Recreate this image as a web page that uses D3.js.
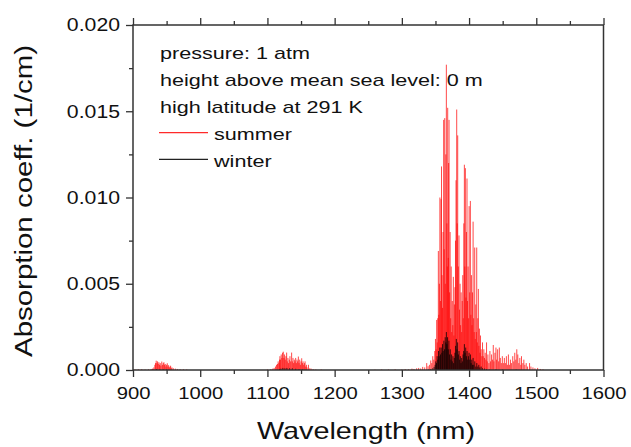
<!DOCTYPE html>
<html>
<head>
<meta charset="utf-8">
<script src="https://cdn.jsdelivr.net/npm/d3@7"></script>
<style>
  body { margin: 0; background: #fff; }
  text { font-family: "Liberation Sans", Arial, sans-serif; fill: #111; }
</style>
</head>
<body>
<svg id="chart" width="631" height="447"></svg>
<script>
//Axis tick values
var xTicks      = [900, 1000, 1100, 1200, 1300, 1400, 1500, 1600];
var xMinorTicks = [950, 1050, 1150, 1250, 1350, 1450, 1550];
var yTicks      = [0, 0.005, 0.010, 0.015, 0.020];
var yMinorTicks = [0.0025, 0.0075, 0.0125, 0.0175];

var infoLines = ["pressure: 1 atm", "height above mean sea level: 0 m", "high latitude at 291 K"];
var seriesNames = ["summer", "winter"];

//Summer spectrum, [wavelength nm, absorption 1/cm]
var summerBand1 = [
  [903,0.00003],[908,0.00004],[913,0.00005],[918,0.00003],[923,0.00004],[927,0.00006],[929,0.00008],
  [931,0.00015],[932.5,0.0003],[933.5,0.0004],[934.5,0.00054],[935.5,0.0004],[936.5,0.0005],
  [937.5,0.00035],[938.5,0.00045],[939.5,0.0003],[940.5,0.0004],[941.5,0.00025],[942.8,0.00049],
  [944,0.0003],[945,0.0004],[946,0.00045],[947,0.0003],[948,0.00035],[949,0.0002],[950,0.0003],
  [951,0.00039],[952,0.0002],[953,0.00028],[954,0.00015],[955,0.0002],[956,0.00025],[957,0.0001],
  [958,0.00015],[960,0.0001],[963,0.00008],[966,0.00006],[970,0.00005],[975,0.00004],[980,0.00003]
];
var summerBand2 = [
  [1100,0.00003],[1105,0.00005],[1108,0.00008],[1110,0.00012],[1112,0.0002],[1113.5,0.0003],
  [1115,0.00035],[1116,0.0005],[1117,0.0004],[1118,0.0006],[1118.6,0.0008],[1119.5,0.0006],
  [1120.5,0.0009],[1121.5,0.0007],[1122.5,0.001],[1123.6,0.00106],[1124.5,0.0007],[1125.5,0.0009],
  [1126.5,0.0006],[1127.5,0.0008],[1128.6,0.00101],[1129.5,0.0005],[1130.5,0.0007],[1131.5,0.0004],
  [1132.5,0.0006],[1133.5,0.0008],[1134.5,0.0005],[1136,0.00101],[1137,0.0005],[1138,0.0007],
  [1139,0.0004],[1140,0.0006],[1141,0.0005],[1142,0.0007],[1143,0.0004],[1144,0.0006],[1145,0.0005],
  [1146,0.00078],[1147,0.0004],[1148,0.0006],[1149,0.0003],[1150,0.0005],[1151,0.00068],[1152,0.0004],
  [1153,0.0005],[1154,0.0003],[1155,0.0004],[1156,0.0005],[1157,0.0002],[1158,0.0003],[1159,0.00015],
  [1161,0.0003],[1163,0.0001],[1165,0.00008],[1168,0.00005],[1172,0.00003],[1180,0.00003]
];
var summerBand3 = [
  [1260,0.00002],[1270,0.00003],[1280,0.00003],[1290,0.00004],[1300,0.00003],[1305,0.00005],
  [1310,0.00004],[1315,0.00008],[1318,0.00006],[1322,0.0001],[1325,0.00012],[1328,0.00009],
  [1331,0.00018],[1334,0.00015],[1337,0.0004],[1339,0.00022],[1341,0.0003],[1343,0.00055],
  [1344.5,0.0004],[1346,0.0008],[1347.5,0.0006],[1349,0.0011],[1350,0.0018],[1351,0.0012],
  [1351.8,0.0029],[1352.6,0.0016],[1353.4,0.0030],[1354.3,0.0069],[1355,0.0032],[1355.8,0.0050],
  [1356.6,0.0100],[1357.4,0.0040],[1358.3,0.0099],[1359,0.0118],[1359.8,0.0055],[1360.5,0.0036],
  [1361.3,0.0080],[1362.2,0.0145],[1363,0.0070],[1363.8,0.0146],[1364.6,0.0050],[1365.4,0.0125],
  [1366.2,0.0177],[1367,0.0085],[1367.6,0.0060],[1368.2,0.0152],[1369,0.0065],[1369.6,0.0120],
  [1370.2,0.0145],[1371,0.0045],[1371.8,0.0080],[1372.6,0.0030],[1373.4,0.0060],[1374.2,0.0022],
  [1375,0.0040],[1375.8,0.0026],[1376.6,0.0054],[1377.4,0.0020],[1378.2,0.0038],[1379,0.0048],
  [1379.8,0.0075],[1380.6,0.0110],[1381.6,0.0151],[1382.3,0.0085],[1383.1,0.0136],[1384,0.0060],
  [1385,0.0078],[1385.8,0.0035],[1386.6,0.0050],[1387.4,0.0026],[1388.2,0.0045],[1389,0.0022],
  [1389.8,0.0040],[1390.6,0.0055],[1391.4,0.0030],[1392.2,0.0085],[1393,0.0119],[1393.7,0.0060],
  [1394.5,0.0117],[1395.3,0.0042],[1396.1,0.0080],[1396.9,0.0111],[1397.7,0.0040],[1398.5,0.0060],
  [1399.3,0.0030],[1400.1,0.0095],[1401,0.0045],[1401.9,0.0098],[1402.7,0.0032],[1403.5,0.0055],
  [1404.3,0.0026],[1405.1,0.0045],[1406,0.0086],[1406.8,0.0030],[1407.6,0.0022],[1408.4,0.0071],
  [1409.2,0.0018],[1410,0.0038],[1410.8,0.0022],[1411.4,0.0071],[1412.2,0.0016],[1413,0.0030],
  [1413.8,0.0047],[1414.6,0.0014],[1415.4,0.0024],[1416.2,0.0010],[1417,0.0020],[1418,0.0012],
  [1419,0.0008],[1420,0.0016],[1421,0.0008],[1422,0.0012],[1423,0.0007],[1424,0.0010],[1425,0.0006],
  [1426,0.0016],[1427,0.0005],[1428,0.0009],[1429.5,0.0004],[1431,0.0011],[1432,0.0005],
  [1433.5,0.0009],[1435,0.0006],[1436,0.00145],[1437,0.0005],[1438.5,0.0010],[1440,0.0013],
  [1441,0.0006],[1442.5,0.0012],[1444,0.0005],[1445,0.0013],[1446.5,0.0007],[1448,0.0004],
  [1449.5,0.0008],[1451,0.0004],[1452.5,0.0007],[1454,0.0004],[1455.5,0.0008],[1457,0.0003],
  [1458.5,0.0009],[1460,0.0003],[1461.5,0.0006],[1463,0.0004],[1465,0.0008],[1466.5,0.0005],
  [1468,0.0010],[1469.5,0.0006],[1471,0.0012],[1472.5,0.0009],[1474,0.0004],[1475.5,0.0007],
  [1477,0.0003],[1478,0.0008],[1480,0.0004],[1481.5,0.0006],[1483,0.0003],[1485,0.0004],
  [1487,0.0002],[1490,0.0004],[1492,0.0002],[1495,0.00015],[1498,0.0001],[1502,0.00012],
  [1506,0.00006],[1510,0.00004]
];

//Winter spectrum
var winterBand1 = [[930,0.00003],[935,0.00005],[940,0.00004],[945,0.00004],[950,0.00003]];
var winterBand2 = [
  [1118,0.00005],[1120,0.00008],[1123,0.00012],[1126,0.0001],[1129,0.00012],[1133,0.0001],
  [1137,0.0001],[1142,0.00007],[1147,0.00005],[1152,0.00003]
];
var winterBand3 = [
  [1340,0.00003],[1343,0.00006],[1346,0.0001],[1348,0.00018],[1349.5,0.0003],[1350.5,0.0005],
  [1351.5,0.0004],[1352.5,0.0008],[1353.5,0.0006],[1354.5,0.0011],[1355.5,0.0008],[1356.5,0.0013],
  [1357.5,0.0009],[1358.5,0.0013],[1359.5,0.0010],[1360.5,0.0015],[1361.5,0.0011],[1362.5,0.0017],
  [1363.5,0.0012],[1364.5,0.0019],[1365.5,0.0016],[1366.2,0.0022],[1367,0.0015],[1368,0.0019],
  [1369,0.0012],[1370,0.0017],[1371,0.0009],[1372,0.0012],[1373,0.0006],[1374,0.0009],[1375,0.0005],
  [1376,0.0008],[1377,0.0004],[1378,0.0007],[1379,0.0010],[1380,0.0014],[1381,0.0018],[1382,0.0012],
  [1383,0.0016],[1384,0.0009],[1385,0.0011],[1386,0.0006],[1387,0.0008],[1388,0.0004],[1389,0.0007],
  [1390,0.0005],[1391,0.0009],[1392,0.0011],[1393,0.0015],[1394,0.0010],[1395,0.0013],[1396,0.0008],
  [1397,0.0011],[1398,0.0006],[1399,0.0008],[1400,0.0010],[1401,0.0006],[1402,0.0009],[1403,0.0004],
  [1404,0.0006],[1405,0.0003],[1406,0.0007],[1407,0.0003],[1408.5,0.0005],[1410,0.0002],
  [1411.5,0.0004],[1413,0.0002],[1414.5,0.0003],[1416,0.00015],[1418,0.0002],[1420,0.0001],
  [1423,0.00008],[1426,0.00005],[1430,0.00003],[1440,0.00004],[1450,0.00003],[1470,0.00003]
];

var summer = summerBand1.concat(summerBand2, summerBand3);
var winter = winterBand1.concat(winterBand2, winterBand3);

//Plot frame
var L = 133, R = 603.5, T = 25, B = 370;
var svg = d3.select('#chart');

var x = d3.scaleLinear().domain([900, 1600]).range([L, R]);
var y = d3.scaleLinear().domain([0, 0.020]).range([B, T]);

//stretch text along its run (the reference type is wide)
function stretch(sel, k)
{
    sel.each(function(){
        var w = this.getComputedTextLength();
        d3.select(this).attr('textLength', w * k).attr('lengthAdjust', 'spacingAndGlyphs');
    });
}

//Spectra as sticks
function sticks(data, color, op, sw)
{
    svg.append('g').selectAll('line').data(data).join('line')
        .attr('x1', function(d){ return x(d[0]); })
        .attr('x2', function(d){ return x(d[0]); })
        .attr('y1', y(0))
        .attr('y2', function(d){ return y(d[1]); })
        .attr('stroke', color)
        .attr('stroke-width', sw)
        .attr('stroke-opacity', op);
}
sticks(summer, '#ff0000', 0.8, 0.9);
sticks(winter, '#000000', 0.85, 0.9);

//Axes
var axisColor = '#333';
function styleAxis(g)
{
    g.select('.domain').remove();
    g.selectAll('line').attr('stroke', axisColor).attr('stroke-width', 1.3);
}

var gxb = svg.append('g').attr('transform', 'translate(0,' + B + ')')
    .call(d3.axisBottom(x).tickValues(xTicks).tickSize(7).tickPadding(10).tickFormat(d3.format('d')));
gxb.call(styleAxis);
gxb.selectAll('text').attr('font-size', 17).attr('fill', '#111').attr('font-family', null);
stretch(gxb.selectAll('text'), 1.19);
svg.append('g').attr('transform', 'translate(0,' + B + ')')
    .call(d3.axisBottom(x).tickValues(xMinorTicks).tickSize(4).tickFormat(''))
    .call(styleAxis);

var gxt = svg.append('g').attr('transform', 'translate(0,' + T + ')')
    .call(d3.axisTop(x).tickValues(xTicks).tickSize(7).tickFormat(''));
gxt.call(styleAxis);
svg.append('g').attr('transform', 'translate(0,' + T + ')')
    .call(d3.axisTop(x).tickValues(xMinorTicks).tickSize(4).tickFormat(''))
    .call(styleAxis);

var gyl = svg.append('g').attr('transform', 'translate(' + L + ',0)')
    .call(d3.axisLeft(y).tickValues(yTicks).tickSize(7).tickPadding(6).tickFormat(d3.format('.3f')));
gyl.call(styleAxis);
gyl.selectAll('text').attr('font-size', 18).attr('fill', '#111').attr('font-family', null);
stretch(gyl.selectAll('text'), 1.18);
svg.append('g').attr('transform', 'translate(' + L + ',0)')
    .call(d3.axisLeft(y).tickValues(yMinorTicks).tickSize(4).tickFormat(''))
    .call(styleAxis);

//Frame
svg.append('rect')
    .attr('x', L).attr('y', T).attr('width', R - L).attr('height', B - T)
    .attr('fill', 'none').attr('stroke', axisColor).attr('stroke-width', 1.5);

//Axis titles
var xt = svg.append('text').attr('x', 366).attr('y', 439)
    .attr('text-anchor', 'middle').attr('font-size', 24).text('Wavelength (nm)');
stretch(xt, 1.2);
var yt = svg.append('text').attr('transform', 'translate(32,201) rotate(-90)')
    .attr('text-anchor', 'middle').attr('font-size', 23).text('Absorption coeff. (1/cm)');
stretch(yt, 1.28);

//Info text and legend
var info = svg.append('g').selectAll('text').data(infoLines).join('text')
    .attr('x', 160)
    .attr('y', function(d, i){ return 59.3 + i * 26.9; })
    .attr('font-size', 17)
    .text(function(d){ return d; });
stretch(info, 1.27);

var legendColors = ['#ff2a2a', '#222'];
seriesNames.forEach(function(name, i){
    var ly = 140 + i * 26.7;
    svg.append('line')
        .attr('x1', 159).attr('x2', 208)
        .attr('y1', ly - 7.3).attr('y2', ly - 7.3)
        .attr('stroke', legendColors[i]).attr('stroke-width', 1.3);
    var t = svg.append('text').attr('x', 214).attr('y', ly).attr('font-size', 17).text(name);
    stretch(t, 1.27);
});
</script>
</body>
</html>
